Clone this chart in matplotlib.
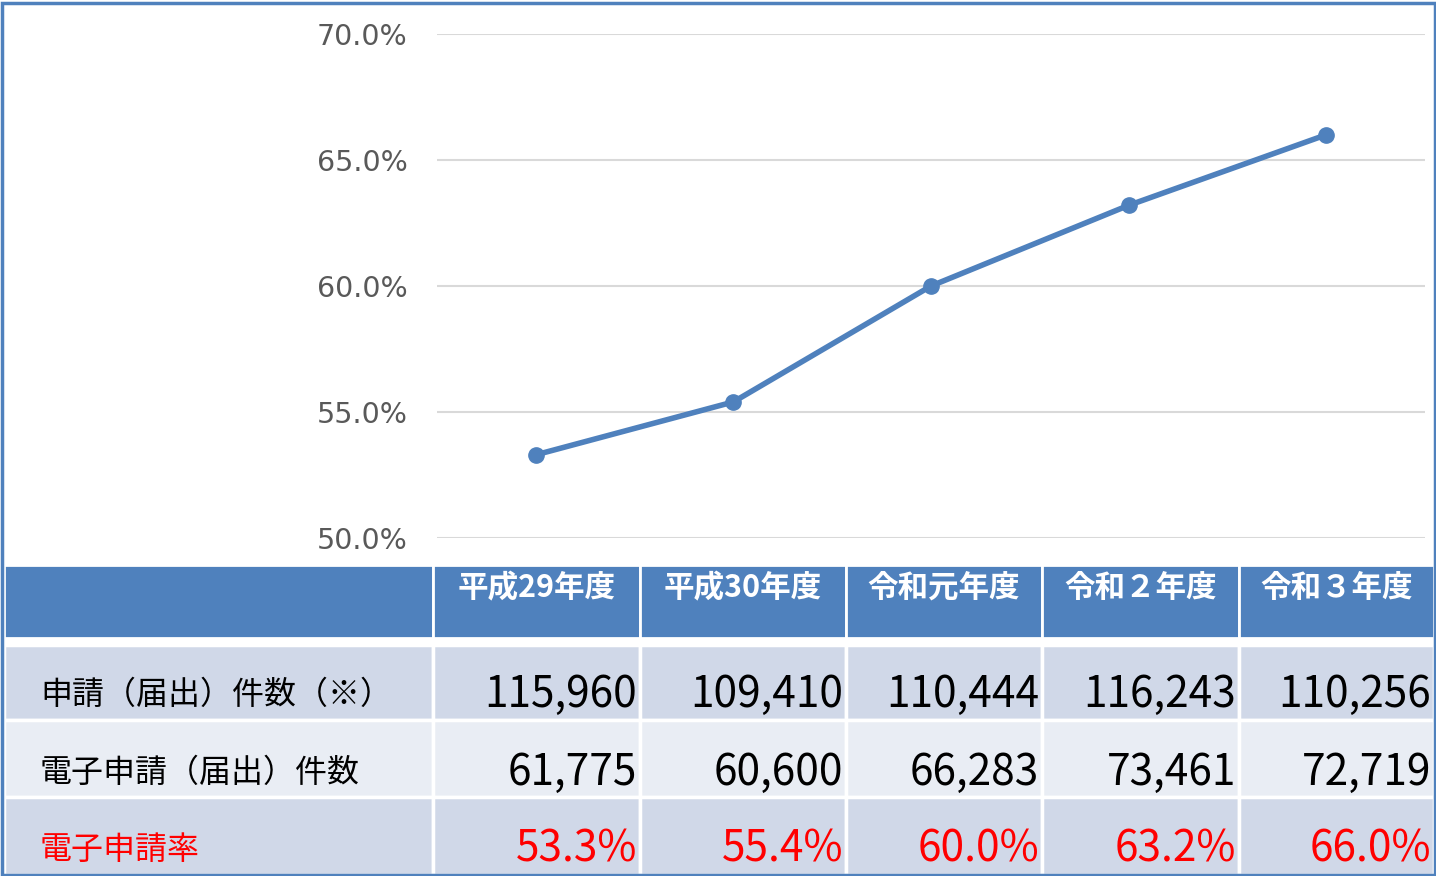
import matplotlib.pyplot as plt
from matplotlib.patches import Rectangle

plt.rcParams['font.family'] = ['Noto Sans CJK JP', 'DejaVu Sans']

# données
years     = ["平成29年度", "平成30年度", "令和元年度", "令和２年度", "令和３年度"]
row_names = ["申請（届出）件数（※）", "電子申請（届出）件数", "電子申請率"]
total     = [115960, 109410, 110444, 116243, 110256]
online    = [61775, 60600, 66283, 73461, 72719]
rate      = [53.3, 55.4, 60.0, 63.2, 66.0]
yticks    = [50, 55, 60, 65, 70]

W, H = 1436, 876
BLUE = "#4F81BD"

fig = plt.figure(figsize=(W / 100, H / 100), dpi=100)

# --- courbe ---
ax = fig.add_axes([437 / W, (H - 538) / H, 988 / W, 504 / H])
x = range(len(rate))
ax.plot(x, rate, color=BLUE, lw=4, marker="o", ms=11, clip_on=False, zorder=3)
ax.set_xlim(-0.5, len(rate) - 0.5)
ax.set_ylim(50, 70)
ax.set_yticks(yticks)
ax.set_yticklabels([f"{v:.1f}%" for v in yticks], fontsize=20.5, color="#595959",
                   family=["DejaVu Sans"])
ax.set_xticks([])
ax.tick_params(axis="y", length=0, pad=21)
ax.grid(axis="y", color="#D9D9D9", lw=1.5)
ax.set_axisbelow(True)
for s in ax.spines.values():
    s.set_visible(False)

# --- tableau ---
tab = fig.add_axes([0, 0, 1, 1])
tab.set_xlim(0, W); tab.set_ylim(H, 0)
tab.axis("off")

col_edges = [4, 433, 640, 846, 1042, 1239, 1434]
head = (565, 638)
rows = [(645, 720), (720, 797), (797, 875)]
row_cols = ["#D0D8E8", "#E9EDF4", "#D0D8E8"]

for j in range(len(col_edges) - 1):
    x0, x1 = col_edges[j], col_edges[j + 1]
    tab.add_patch(Rectangle((x0, head[0]), x1 - x0, head[1] - head[0],
                            fc=BLUE, ec="white", lw=2))
    if j > 0:
        tab.text((x0 + x1) / 2, 588, years[j - 1], color="white", fontsize=22,
                 fontweight="bold", ha="center", va="center")

values = [[f"{v:,}" for v in total], [f"{v:,}" for v in online],
          [f"{v:.1f}%" for v in rate]]
text_cols = ["black", "black", "#FF0000"]
text_y = [695, 773, 850]

for i, (y0, y1) in enumerate(rows):
    for j in range(len(col_edges) - 1):
        x0, x1 = col_edges[j], col_edges[j + 1]
        tab.add_patch(Rectangle((x0, y0), x1 - x0, y1 - y0,
                                fc=row_cols[i], ec="white", lw=2.5))
    tab.text(40, text_y[i], row_names[i], color=text_cols[i], fontsize=23,
             ha="left", va="center")
    for j, v in enumerate(values[i]):
        tab.text(col_edges[j + 2] - 3, text_y[i], v, color=text_cols[i],
                 fontsize=30.5, ha="right", va="center")

# cadre extérieur
tab.add_patch(Rectangle((1.5, 2.5), W - 3, H - 4, fc="none", ec=BLUE, lw=2.5))

plt.savefig("out.png", dpi=100)
plt.close()
